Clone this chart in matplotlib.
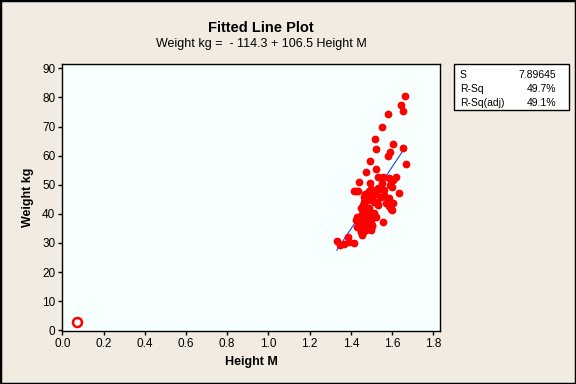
import numpy as np
import matplotlib
matplotlib.use("Agg")
import matplotlib.pyplot as plt
from matplotlib.patches import Rectangle

plt.rcParams['font.family'] = ['Liberation Sans', 'DejaVu Sans']

# Data
height_m = [
    1.664, 1.643, 1.655, 1.581, 1.552, 1.518, 1.606, 1.523, 1.655, 1.588,
    1.579, 1.494, 1.666, 1.474, 1.523, 1.533, 1.556, 1.586, 1.620, 1.603,
    1.440, 1.494, 1.601, 1.591,
    1.413, 1.425, 1.437, 1.489, 1.530, 1.546, 1.562, 1.635, 1.562, 1.501,
    1.546, 1.481, 1.505, 1.462, 1.586, 1.579, 1.481, 1.465, 1.525, 1.603,
    1.570, 1.457, 1.530, 1.586, 1.465, 1.586, 1.449, 1.489, 1.481, 1.595,
    1.601, 1.513, 1.432, 1.465, 1.522, 1.436, 1.497, 1.424, 1.497, 1.554,
    1.449, 1.481, 1.505, 1.432, 1.465, 1.502, 1.449, 1.473, 1.497, 1.452,
    1.384, 1.332, 1.347, 1.367, 1.392, 1.416, 1.457, 1.475, 1.455, 1.510,
    1.470, 1.520, 1.440, 1.475, 1.490, 1.500, 1.550,
]
weight_kg = [
    80.6, 77.5, 75.5, 74.3, 69.8, 65.7, 64.1, 62.2, 62.6, 61.4,
    59.9, 58.2, 57.1, 54.4, 55.4, 52.8, 52.8, 52.5, 52.8, 51.7,
    50.9, 50.6, 49.4, 50.0,
    47.9, 47.9, 47.7, 47.9, 48.8, 48.5, 48.2, 47.1, 46.5, 46.5,
    45.9, 45.9, 45.9, 45.7, 45.4, 45.0, 44.8, 44.2, 44.2, 43.9,
    43.7, 43.1, 43.1, 43.1, 42.5, 42.7, 42.0, 42.0, 41.9, 41.7,
    41.4, 40.2, 39.1, 39.1, 39.1, 38.5, 38.5, 37.9, 37.9, 37.3,
    36.2, 36.2, 36.2, 35.6, 35.6, 36.0, 33.9, 34.5, 34.5, 32.8,
    32.2, 30.7, 29.3, 29.7, 30.5, 29.9, 33.9, 40.5, 40.0, 44.0,
    47.0, 46.8, 37.0, 37.5, 39.5, 48.5, 50.5,
]
outlier_h = [0.07]
outlier_w = [2.9]

intercept = -114.3
slope = 106.5
stats_names = ["S", "R-Sq", "R-Sq(adj)"]
stats_values = ["7.89645", "49.7%", "49.1%"]

BG = '#F1EBE1'
W, H = 576, 384

fig = plt.figure(figsize=(5.76, 3.84), dpi=100, facecolor=BG)
ax = fig.add_axes([62.3 / W, 53 / H, 378 / W, 266.7 / H], facecolor='#F7FFFF')

# fitted line over the range of the data
xl = np.array([min(height_m), max(height_m)])
ax.plot(xl, intercept + slope * xl, color='#1a3cff', lw=0.8, zorder=2)
ax.plot(height_m, weight_kg, 'o', color='red', ms=5.6, mec='red', mew=0, zorder=3)
ax.plot(outlier_h, outlier_w, 'o', mfc='none', mec='red', ms=6.5, mew=1.8, zorder=3)

ax.set_xlim(0, 1.834)
ax.set_ylim(-0.24, 91.4)
ax.set_xticks(np.arange(0, 1.81, 0.2))
ax.set_xticklabels([f"{v:.1f}" for v in np.arange(0, 1.81, 0.2)])
ax.set_yticks(np.arange(0, 91, 10))
ax.tick_params(direction='out', length=3, width=1, labelsize=8.5, pad=2, colors='black')
for s in ax.spines.values():
    s.set_linewidth(1)
    s.set_color('black')

ax.set_xlabel("Height M", fontsize=9, fontweight='bold', labelpad=4)
ax.set_ylabel("Weight kg", fontsize=9, fontweight='bold', labelpad=6)

fig.text(261 / W, 1 - 27.5 / H, "Fitted Line Plot", ha='center', va='center',
         fontsize=10.5, fontweight='bold')
fig.text(261 / W, 1 - 44.5 / H, "Weight kg =  - 114.3 + 106.5 Height M",
         ha='center', va='center', fontsize=9)

# stats box
fig.patches.append(Rectangle((454 / W, 1 - 110 / H), 115 / W, 46 / H,
                             transform=fig.transFigure, facecolor='white',
                             edgecolor='black', lw=1))
for i, (n, v) in enumerate(zip(stats_names, stats_values)):
    y = 1 - (74.5 + i * 14) / H
    fig.text(460 / W, y, n, ha='left', va='center', fontsize=7.5)
    fig.text(556 / W, y, v, ha='right', va='center', fontsize=7.5)

# outer border
fig.patches.append(Rectangle((0, 0), 1, 1, transform=fig.transFigure,
                             fill=False, edgecolor='black', lw=2.5))

fig.savefig("out.png", dpi=100, facecolor=BG)
